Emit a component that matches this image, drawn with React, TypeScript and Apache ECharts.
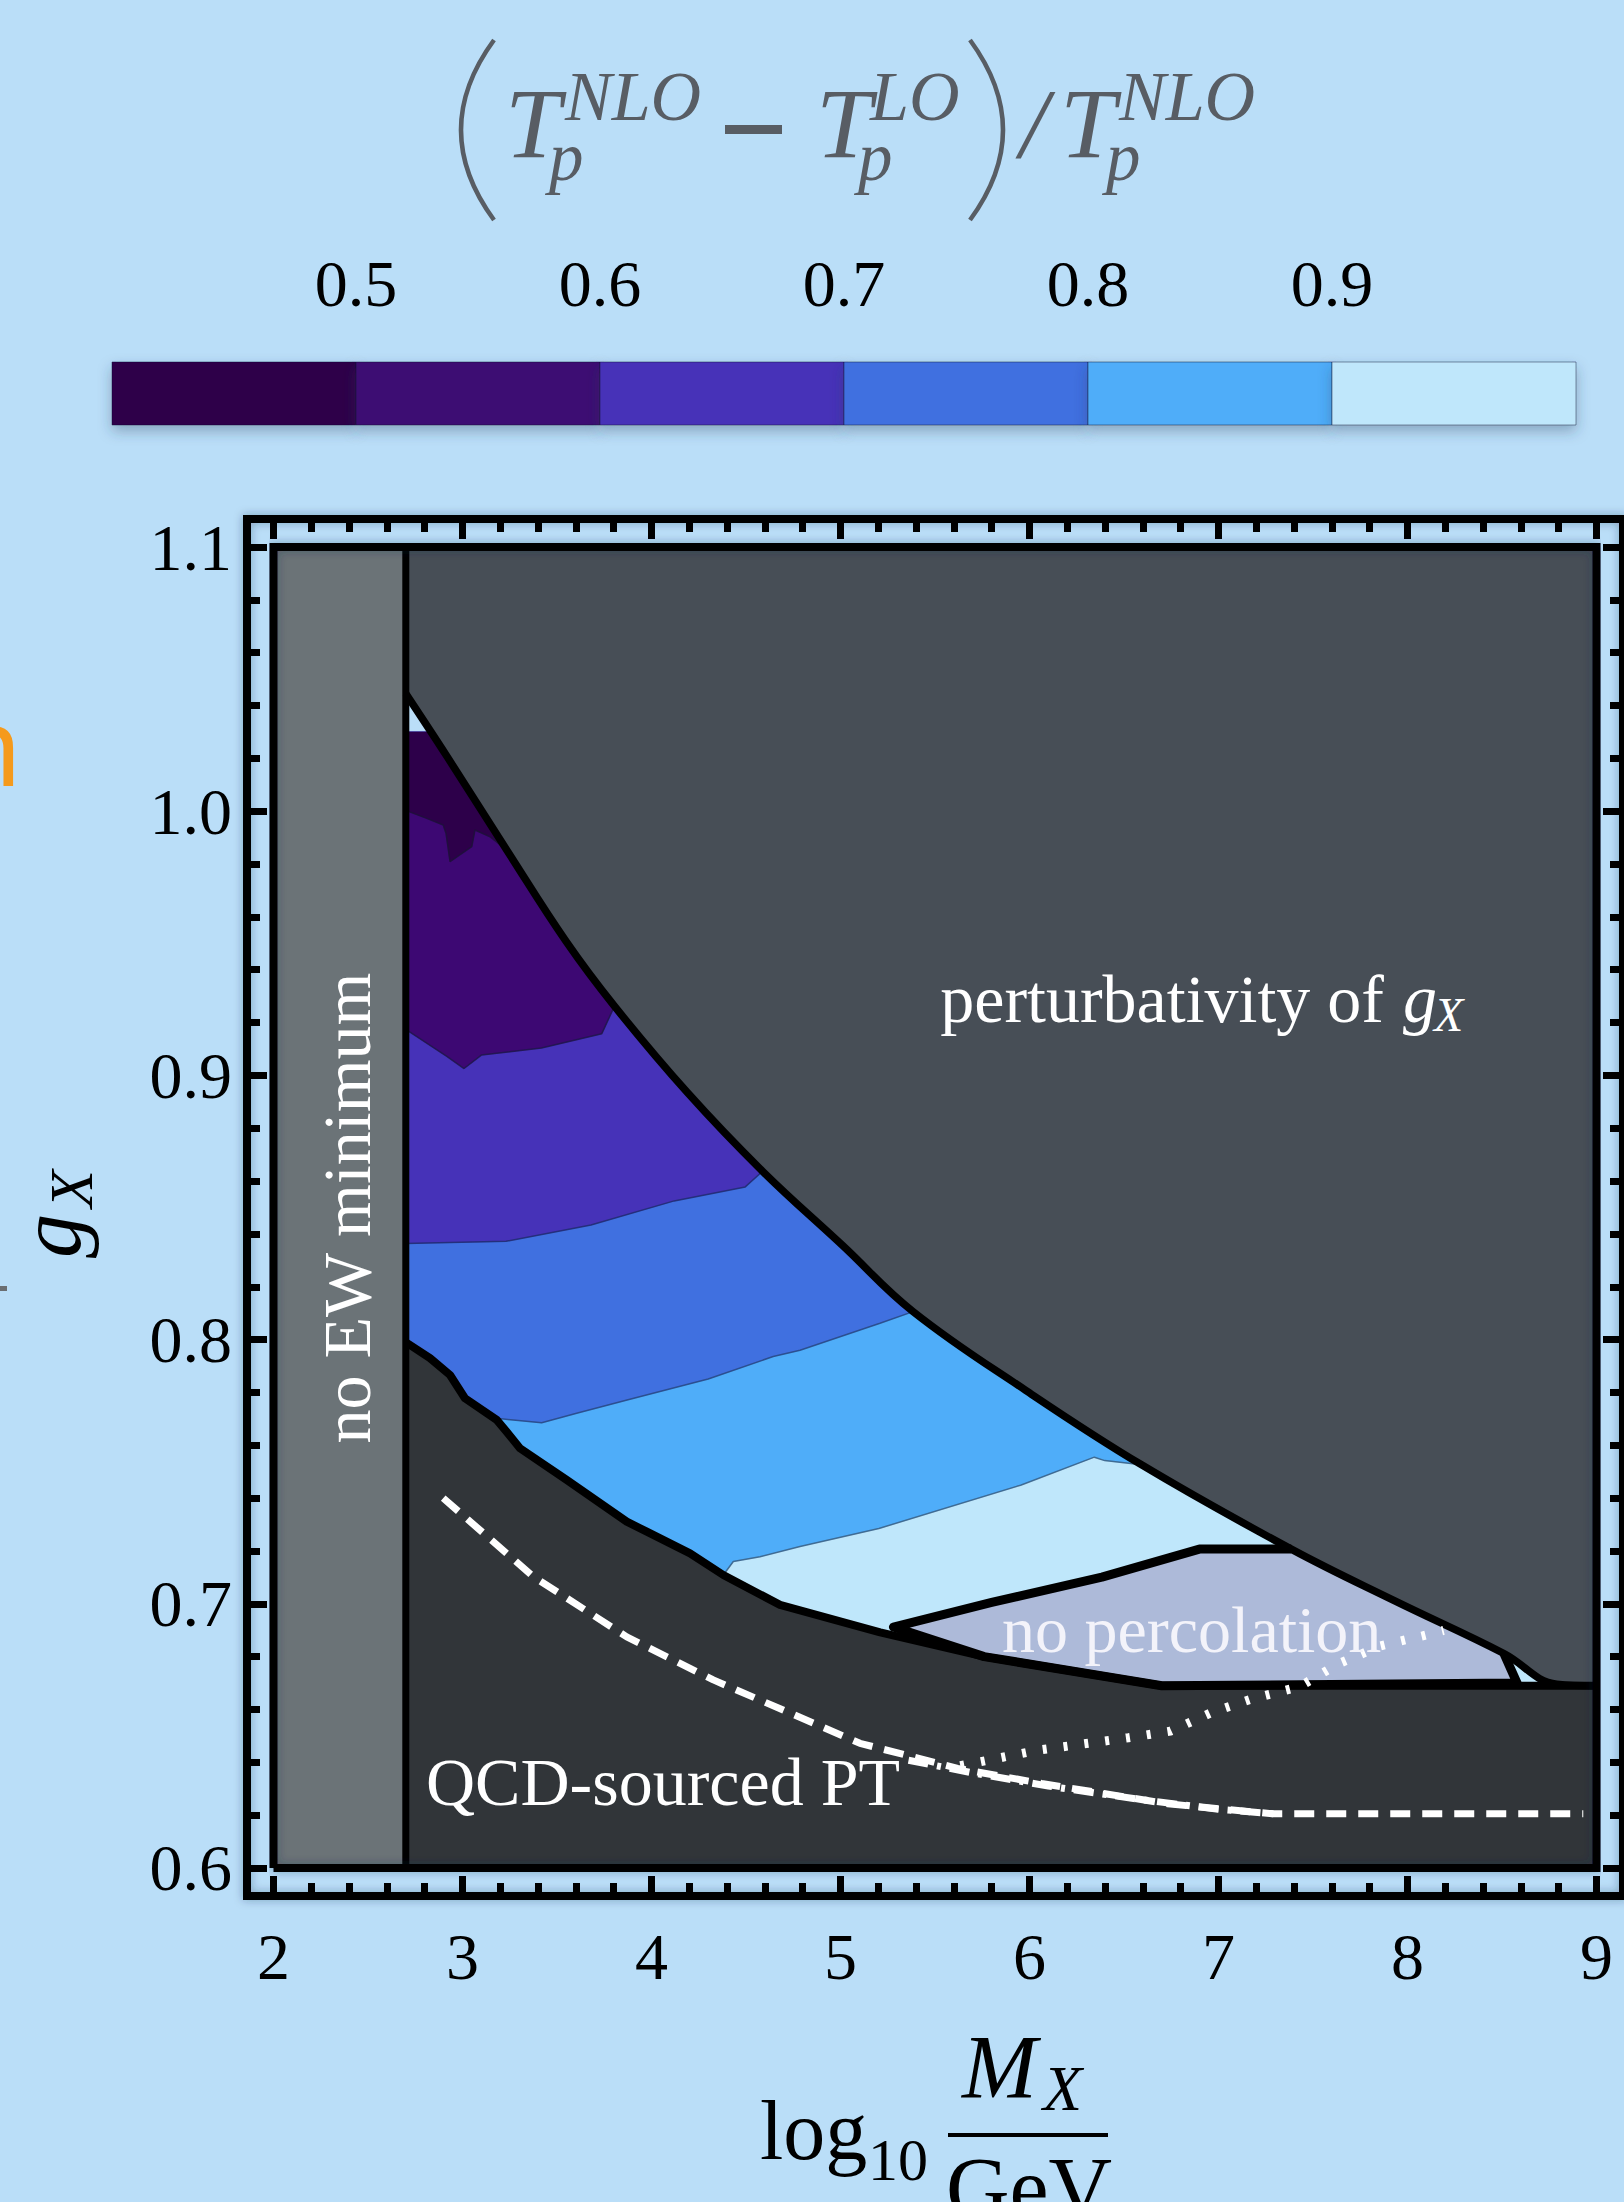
import React, { useEffect, useRef } from "react";
import * as echarts from "echarts";

const FONT = "Liberation Serif";
const BG = "#badef8";

// ---------- colour bar ----------
const colorbarEdges = [0.4, 0.5, 0.6, 0.7, 0.8, 0.9, 1.0];
const colorbarColors = ["#2d004a", "#3d0873", "#4632b8", "#4070e0", "#4fadf9", "#bfe7fb"];
const colorbarTicks = [0.5, 0.6, 0.7, 0.8, 0.9];

// ---------- main axes ----------
const xMajorTicks = [2, 3, 4, 5, 6, 7, 8, 9];
const xMinorTicks = [2.2, 2.4, 2.6, 2.8, 3.2, 3.4, 3.6, 3.8, 4.2, 4.4, 4.6, 4.8, 5.2, 5.4, 5.6, 5.8, 6.2, 6.4, 6.6, 6.8, 7.2, 7.4, 7.6, 7.8, 8.2, 8.4, 8.6, 8.8];
const yMajorTicks = [0.6, 0.7, 0.8, 0.9, 1.0, 1.1];
const yMinorTicks = [0.62, 0.64, 0.66, 0.68, 0.72, 0.74, 0.76, 0.78, 0.82, 0.84, 0.86, 0.88, 0.92, 0.94, 0.96, 0.98, 1.02, 1.04, 1.06, 1.08];

// outer frame range (padded) and inner plot range
const X_MIN = 1.8598, X_MAX = 9.1402;
const Y_MIN = 0.5894, Y_MAX = 1.1106;
const PX_MIN = 2, PX_MAX = 9, PY_MIN = 0.6, PY_MAX = 1.1;

// ---------- regions (log10 M_X/GeV , g_X) ----------
const ewBoundaryX = 2.7;
const colouredTopY = 1.03;

const perturbativityCurve = [
  [2.7, 1.0445], [2.92, 1.0205], [3.234, 0.9853], [3.55, 0.9505], [3.804, 0.9262],
  [4.19, 0.8935], [4.588, 0.8637], [5.01, 0.8357], [5.384, 0.8106], [5.98, 0.7808],
  [6.593, 0.7526], [7.385, 0.7207], [7.93, 0.7012], [8.51, 0.6812], [8.79, 0.6696], [9.0, 0.669],
];

const qcdBoundary = [
  [2.7, 0.799], [2.828, 0.793], [2.934, 0.7866], [3.013, 0.7778], [3.181, 0.7696], [3.234, 0.7651],
  [3.304, 0.7589], [3.551, 0.7469], [3.869, 0.7311], [3.975, 0.7273], [4.204, 0.7191], [4.38, 0.7109],
  [4.68, 0.6996], [5.21, 0.6892], [5.76, 0.68], [6.7, 0.669], [9.0, 0.669],
];

const noPercolation = [
  [5.28, 0.6912], [5.8, 0.7005], [6.383, 0.7101], [6.899, 0.7207], [7.385, 0.7207], [7.93, 0.7012],
  [8.51, 0.6812], [8.58, 0.67], [6.7, 0.669], [5.76, 0.68],
];
// outline of the no-percolation island that is not on the perturbativity curve
const noPercolationEdge = [
  [8.51, 0.6812], [8.58, 0.67], [6.7, 0.669], [5.76, 0.68], [5.28, 0.6912], [5.8, 0.7005],
  [6.383, 0.7101], [6.899, 0.7207], [7.385, 0.7207],
];

const contour05 = [
  [2.7, 1.0003], [2.811, 0.9973], [2.898, 0.9948], [2.913, 0.9916], [2.934, 0.9809], [3.049, 0.9866],
  [3.066, 0.9929], [3.146, 0.9903], [3.234, 0.9853],
];
const contour06 = [
  [2.7, 0.9174], [2.917, 0.9072], [3.008, 0.9026], [3.1, 0.9077], [3.418, 0.9104], [3.737, 0.9158], [3.804, 0.9262],
];
const contour07 = [
  [2.7, 0.8364], [3.23, 0.8372], [3.68, 0.8434], [4.12, 0.8525], [4.496, 0.8578], [4.588, 0.8637],
];
const contour08 = [
  [3.181, 0.7702], [3.419, 0.7685], [3.604, 0.7721], [3.886, 0.7774], [4.3, 0.7851], [4.644, 0.7936],
  [4.786, 0.796], [5.209, 0.8062], [5.384, 0.8106],
];
const contour09 = [
  [4.38, 0.7109], [4.433, 0.716], [4.574, 0.7178], [4.786, 0.7217], [5.203, 0.7285], [5.953, 0.7449],
  [6.343, 0.7555], [6.398, 0.7542], [6.593, 0.7526],
];

const dashedLine = [
  [2.898, 0.74], [3.375, 0.7103], [3.869, 0.6875], [4.327, 0.6712], [5.103, 0.6472], [5.62, 0.6377],
  [6.064, 0.632], [6.731, 0.6243], [7.288, 0.6205], [8.93, 0.6205],
];
const dashDotLine = [
  [5.36, 0.6408], [5.7, 0.636], [6.1, 0.631], [6.6, 0.6258], [7.0, 0.6222], [7.3, 0.6205],
];
const dottedLine = [
  [5.634, 0.6387], [6.037, 0.6445], [6.523, 0.6493], [6.746, 0.6518], [6.968, 0.659], [7.19, 0.6643],
  [7.427, 0.6686], [7.635, 0.6773], [7.858, 0.6841], [8.08, 0.6879], [8.191, 0.6899],
];

const COL_EW = "#6b7377";
const COL_PERT = "#474e56";
const COL_QCD = "#313539";
const COL_NOPERC = "#adbad9";

function bandAbove(c: number[][], floorY?: number) {
  const last = c[c.length - 1];
  if (floorY === undefined) {
    return [[ewBoundaryX, colouredTopY], ...c, [last[0], colouredTopY]];
  }
  return [[ewBoundaryX, colouredTopY], [ewBoundaryX, floorY], [c[0][0], floorY], ...c, [last[0], colouredTopY]];
}

// painted below the perturbativity area
const lowerRegions = [
  { pts: [[ewBoundaryX, colouredTopY], [9, colouredTopY], [9, 0.66], [ewBoundaryX, 0.66]], fill: colorbarColors[5] },
  { pts: bandAbove(contour09, 0.68), fill: colorbarColors[4] },
  { pts: bandAbove(contour08, 0.7), fill: colorbarColors[3] },
  { pts: bandAbove(contour07), fill: colorbarColors[2] },
  { pts: bandAbove(contour06), fill: colorbarColors[1] },
  { pts: bandAbove(contour05), fill: colorbarColors[0] },
  { pts: noPercolation, fill: COL_NOPERC },
];
// painted above it
const upperRegions = [
  { pts: [[ewBoundaryX, 0.6], ...qcdBoundary, [9, 0.6]], fill: COL_QCD },
  { pts: [[2, 0.6], [2, 1.1], [ewBoundaryX, 1.1], [ewBoundaryX, 0.6]], fill: COL_EW },
];

const IX = 5, IY = 5; // inner plot axes

function polySeries(list: { pts: number[][]; fill: string }[]) {
  return {
    type: "custom",
    xAxisIndex: IX,
    yAxisIndex: IY,
    silent: true,
    clip: false,
    data: list.map((r) => r.pts[0]),
    renderItem: (params: any, api: any) => {
      const r = list[params.dataIndex];
      return {
        type: "polygon",
        shape: { points: r.pts.map((p) => api.coord(p)) },
        style: { fill: r.fill, stroke: r.fill, lineWidth: 0.5 },
      };
    },
  };
}

function line(data: number[][], lineStyle: any, extra: any = {}) {
  return {
    type: "line",
    xAxisIndex: IX,
    yAxisIndex: IY,
    data,
    symbol: "none",
    showSymbol: false,
    silent: true,
    clip: false,
    animation: false,
    lineStyle,
    ...extra,
  };
}

function txt(text: string, x: number, y: number, size: number, o: any = {}) {
  const align = o.align || "left";
  return {
    type: "text",
    x,
    y,
    rotation: o.rotation || 0,
    z: 100,
    silent: true,
    style: {
      text,
      fill: o.color || "#000",
      fontSize: size,
      fontFamily: o.family || FONT,
      fontStyle: o.italic ? "italic" : "normal",
      align,
      verticalAlign: "middle",
      textAlign: align,
      textVerticalAlign: "middle",
      opacity: o.opacity ?? 1,
    },
  };
}

const TITLE_COL = "#585d64";

function buildOption() {
  const tickAxis = (pos: string, values: number[], len: number, isX: boolean, labels: boolean) => ({
    type: "value",
    gridIndex: 0,
    min: isX ? X_MIN : Y_MIN,
    max: isX ? X_MAX : Y_MAX,
    position: pos,
    axisLine: { show: false },
    splitLine: { show: false },
    axisTick: { show: true, inside: true, length: len, customValues: values, lineStyle: { color: "#000", width: 7 } },
    axisLabel: labels
      ? {
          show: true,
          customValues: values,
          fontFamily: FONT,
          fontSize: 66,
          color: "#000",
          margin: isX ? 27 : 15,
          formatter: (v: number) => (isX ? String(Math.round(v)) : v.toFixed(1)),
        }
      : { show: false },
  });

  return {
    animation: false,
    backgroundColor: BG,
    grid: [
      {
        left: 247, top: 519, width: 1376, height: 1377, show: true, borderColor: "#000", borderWidth: 8,
        backgroundColor: "transparent", shadowBlur: 10, shadowColor: "rgba(20,40,70,0.35)",
      },
      { left: 112, top: 362, width: 1464, height: 63 },
      { left: 273.5, top: 547, width: 1323, height: 1321 },
    ],
    xAxis: [
      tickAxis("bottom", xMajorTicks, 20, true, true),
      tickAxis("bottom", xMinorTicks, 13, true, false),
      tickAxis("top", xMajorTicks, 20, true, false),
      tickAxis("top", xMinorTicks, 13, true, false),
      {
        type: "value",
        gridIndex: 1,
        min: 0.4,
        max: 1.0,
        position: "top",
        axisLine: { show: false },
        splitLine: { show: false },
        axisTick: { show: true, inside: false, length: 19, customValues: colorbarTicks, lineStyle: { color: "#6f7780", width: 1.5 } },
        axisLabel: {
          show: true,
          customValues: colorbarTicks,
          fontFamily: FONT,
          fontSize: 66,
          color: "#000",
          margin: 46,
          formatter: (v: number) => v.toFixed(1),
        },
      },
      { type: "value", gridIndex: 2, min: PX_MIN, max: PX_MAX, show: false },
    ],
    yAxis: [
      tickAxis("left", yMajorTicks, 20, false, true),
      tickAxis("left", yMinorTicks, 13, false, false),
      tickAxis("right", yMajorTicks, 20, false, false),
      tickAxis("right", yMinorTicks, 13, false, false),
      { type: "value", gridIndex: 1, min: 0, max: 1, show: false },
      { type: "value", gridIndex: 2, min: PY_MIN, max: PY_MAX, show: false },
    ],
    series: [
      {
        type: "custom",
        xAxisIndex: 4,
        yAxisIndex: 4,
        silent: true,
        data: colorbarColors.map((_, i) => [colorbarEdges[i], colorbarEdges[i + 1]]),
        renderItem: (params: any, api: any) => {
          const a = api.coord([api.value(0), 1]);
          const b = api.coord([api.value(1), 0]);
          return {
            type: "rect",
            shape: { x: a[0], y: a[1], width: b[0] - a[0], height: b[1] - a[1] },
            style: {
              fill: colorbarColors[params.dataIndex],
              stroke: "rgba(20,20,50,0.45)",
              lineWidth: 1,
              shadowBlur: 14,
              shadowColor: "rgba(40,60,90,0.35)",
              shadowOffsetY: 6,
            },
          };
        },
      },
      polySeries(lowerRegions),
      // perturbativity region: area from the (smooth) curve up to the top of the plot
      line(perturbativityCurve, { width: 0, opacity: 0 }, {
        smooth: 0.4,
        areaStyle: { color: COL_PERT, opacity: 1, origin: "end" },
      }),
      polySeries(upperRegions),
      // thin contour lines
      line(contour05, { color: "#1d1238", width: 1.5, opacity: 0.8 }),
      line(contour06, { color: "#1d1848", width: 1.5, opacity: 0.8 }),
      line(contour07, { color: "#1d2a6a", width: 1.5, opacity: 0.8 }),
      line(contour08, { color: "#25437a", width: 1.5, opacity: 0.8 }),
      line(contour09, { color: "#35587a", width: 1.5, opacity: 0.8 }),
      // thick black boundaries
      line(noPercolationEdge, { color: "#000", width: 9, join: "round" }),
      line(perturbativityCurve, { color: "#000", width: 7.5, join: "round" }, { smooth: 0.4 }),
      line(qcdBoundary, { color: "#000", width: 8, join: "round" }),
      line([[ewBoundaryX, 0.6], [ewBoundaryX, 1.1]], { color: "#000", width: 7 }),
      line([[2, 0.6], [2, 1.1], [9, 1.1], [9, 0.6], [2, 0.6]], {
        color: "#000", width: 8, join: "miter", shadowBlur: 10, shadowColor: "rgba(20,40,70,0.35)",
      }),
      // white lines
      line(dashedLine, { color: "#fff", width: 7, type: [20, 12], cap: "butt" }),
      line(dashDotLine, { color: "#fff", width: 7, type: [20, 9, 4, 9], cap: "butt" }),
      line(dottedLine, { color: "#fff", width: 9, type: [4, 17], cap: "butt" }),
    ],
    graphic: [
      // colour bar title
      {
        type: "bezierCurve", z: 100, silent: true,
        shape: { x1: 494, y1: 40, cpx1: 428, cpy1: 130, x2: 494, y2: 220 },
        style: { stroke: TITLE_COL, lineWidth: 4.5, fill: "none" },
      },
      txt("T", 505, 123, 100, { italic: true, color: TITLE_COL }),
      txt("NLO", 565, 96, 70, { italic: true, color: TITLE_COL }),
      txt("p", 549, 157, 69, { italic: true, color: TITLE_COL }),
      { type: "rect", z: 100, silent: true, shape: { x: 725, y: 125, width: 57, height: 9 }, style: { fill: TITLE_COL } },
      txt("T", 816, 123, 100, { italic: true, color: TITLE_COL }),
      txt("LO", 870, 96, 70, { italic: true, color: TITLE_COL }),
      txt("p", 858, 157, 69, { italic: true, color: TITLE_COL }),
      {
        type: "bezierCurve", z: 100, silent: true,
        shape: { x1: 970, y1: 40, cpx1: 1036, cpy1: 130, x2: 970, y2: 220 },
        style: { stroke: TITLE_COL, lineWidth: 4.5, fill: "none" },
      },
      txt("/", 1020, 123, 100, { italic: true, color: TITLE_COL }),
      txt("T", 1060, 123, 100, { italic: true, color: TITLE_COL }),
      txt("NLO", 1119, 96, 70, { italic: true, color: TITLE_COL }),
      txt("p", 1106, 157, 69, { italic: true, color: TITLE_COL }),
      // axis titles
      txt("g", 50, 1236, 88, { italic: true, rotation: Math.PI / 2, align: "center" }),
      txt("X", 71, 1189, 62, { italic: true, rotation: Math.PI / 2, align: "center" }),
      txt("log", 760, 2130, 84),
      txt("10", 868, 2160, 60),
      { type: "rect", z: 100, silent: true, shape: { x: 948, y: 2133, width: 160, height: 4 }, style: { fill: "#000" } },
      txt("M", 962, 2067, 90, { italic: true }),
      txt("X", 1043, 2088, 64, { italic: true }),
      txt("GeV", 1029, 2188, 88, { align: "center" }),
      // region labels
      txt("no EW minimum", 347, 1208, 68, { color: "#fff", rotation: Math.PI / 2, align: "center" }),
      txt("perturbativity of", 1384, 999, 68, { color: "#fff", align: "right" }),
      txt("g", 1403, 999, 68, { color: "#fff", italic: true }),
      txt("X", 1434, 1014, 48, { color: "#fff", italic: true }),
      txt("QCD-sourced PT", 426, 1782, 68, { color: "#fff" }),
      txt("no percolation", 1002, 1629, 66, { color: "#f3f3fa" }),
      // edge artefacts
      txt("n", -46, 743, 110, { color: "#f59a1c", family: "Noto Sans" }),
      { type: "rect", z: 100, silent: true, shape: { x: 0, y: 1286, width: 7, height: 5 }, style: { fill: "#6a6e72" } },
    ],
  };
}

export default function App() {
  const ref = useRef<HTMLDivElement>(null);
  useEffect(() => {
    const chart = echarts.init(ref.current!, null, { renderer: "svg" });
    chart.setOption(buildOption() as any);
    return () => chart.dispose();
  }, []);
  return <div ref={ref} style={{ position: "absolute", left: 0, top: 0, width: 1624, height: 2202 }} />;
}
